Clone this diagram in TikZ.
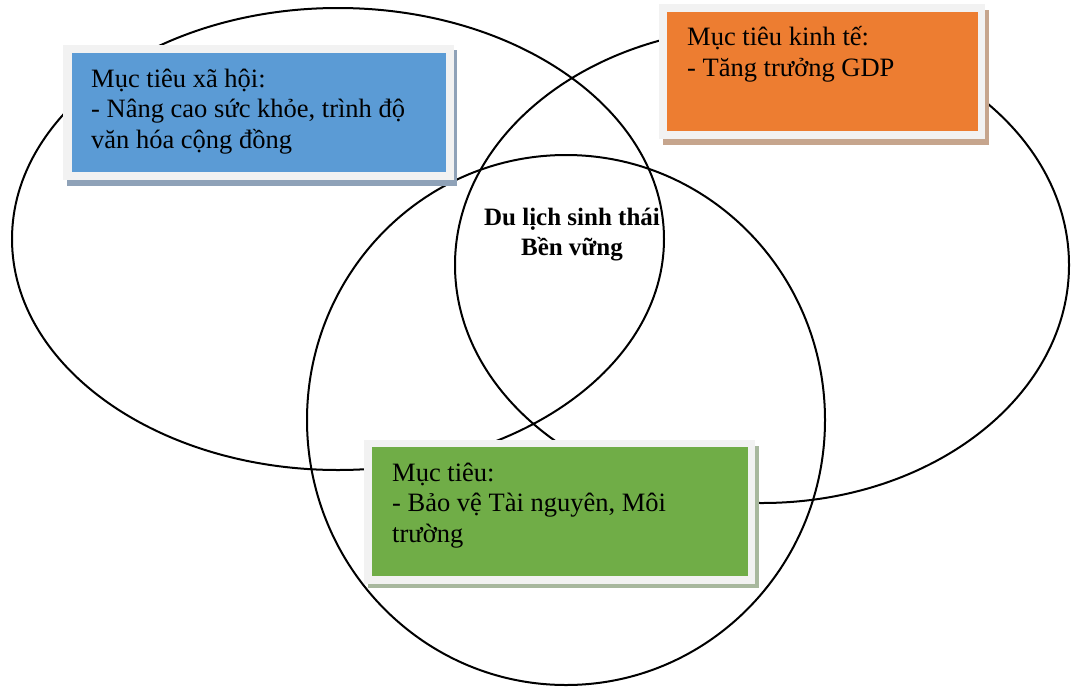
\documentclass[tikz,border=0pt]{standalone}
\usepackage{fontspec}
\setmainfont{Liberation Serif}
\definecolor{frameg}{HTML}{F2F2F2}
\definecolor{bluef}{HTML}{5B9BD5}
\definecolor{orangef}{HTML}{ED7D31}
\definecolor{greenf}{HTML}{70AD47}
\definecolor{blueshadow}{HTML}{8FA2B8}
\definecolor{orangeshadow}{HTML}{C6A58D}
\definecolor{greenshadow}{HTML}{A8B89E}
\begin{document}
\begin{tikzpicture}[x=1pt,y=-1pt,
  ring/.style={draw=black,line width=2pt},
  boxtext/.style={anchor=base west,align=left,inner sep=0pt,font=\fontsize{26.5}{30.5}\selectfont},
  centertext/.style={anchor=base,align=center,inner sep=0pt,font=\fontsize{25}{30}\selectfont\bfseries}]
\useasboundingbox (0,0) rectangle (1071,686);
\fill[white] (0,0) rectangle (1071,686);
% ellipses
\draw[ring] (338,239) ellipse [x radius=326, y radius=231];
\draw[ring] (762,265) ellipse [x radius=307, y radius=238];
\draw[ring] (566,420) ellipse [x radius=259, y radius=265];
% blue box
\fill[blueshadow] (67,50) rectangle (457,186);
\fill[frameg] (63,45) rectangle (454,180);
\fill[bluef] (72,53) rectangle (446,172);
\node[boxtext] (social) at (91,148) {Mục tiêu xã hội:\\- Nâng cao sức khỏe, trình độ\\văn hóa cộng đồng};
% orange box
\fill[orangeshadow] (663,10) rectangle (989,145);
\fill[frameg] (659,4) rectangle (985,139);
\fill[orangef] (667,12) rectangle (978,131);
\node[boxtext] (econ) at (687,76) {Mục tiêu kinh tế:\\- Tăng trưởng GDP};
% green box
\fill[greenshadow] (368,446) rectangle (759,588);
\fill[frameg] (364,440) rectangle (755,584);
\fill[greenf] (372,447) rectangle (748,576);
\node[boxtext] (env) at (392,542) {Mục tiêu:\\- Bảo vệ Tài nguyên, Môi\\trường};
% center
\node[centertext] (core) at (572,255) {Du lịch sinh thái\\Bền vững};
\end{tikzpicture}
\end{document}
